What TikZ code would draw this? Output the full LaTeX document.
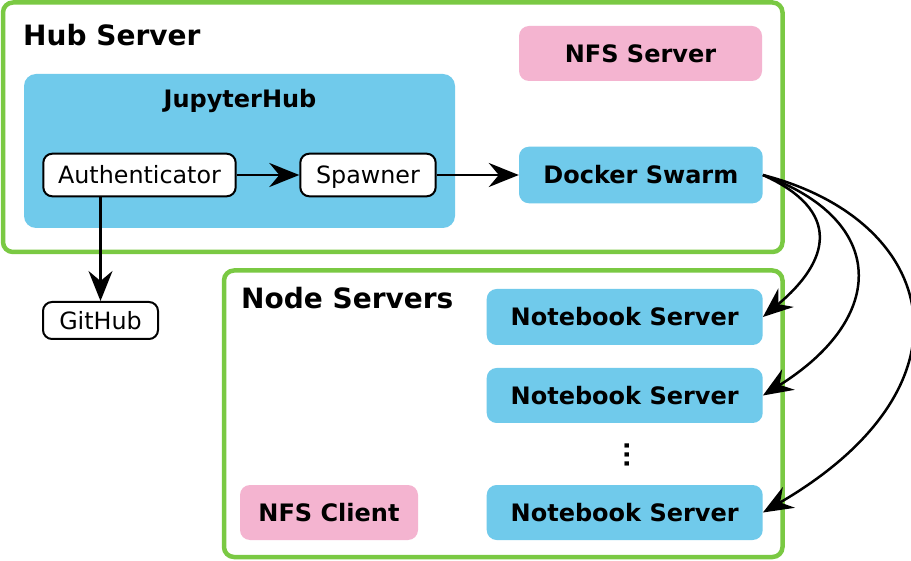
\documentclass[tikz,border=0pt]{standalone}
\usepackage{fontspec}
\setmainfont{DejaVu Sans}
\usetikzlibrary{arrows.meta}
\definecolor{hubgreen}{RGB}{122,201,67}
\definecolor{boxblue}{RGB}{112,202,235}
\definecolor{boxpink}{RGB}{244,180,208}
\begin{document}
\begin{tikzpicture}[x=1pt,y=-1pt,
  frame/.style={draw=hubgreen, line width=4.5pt, rounded corners=10pt, inner sep=0pt},
  titletext/.style={anchor=base west, inner sep=0pt, font=\fontsize{28}{33}\selectfont\bfseries},
  bluebox/.style={fill=boxblue, rounded corners=10pt, inner sep=0pt, font=\fontsize{24}{29}\selectfont\bfseries, text height=17.5pt, text depth=0pt},
  pinkbox/.style={bluebox, fill=boxpink},
  whitebox/.style={draw, line width=2pt, fill=white, rounded corners=9pt, inner sep=0pt, font=\fontsize{23.8}{28}\selectfont, text height=17.3pt, text depth=0pt},
  arr/.style={line width=2.5pt, -{Stealth[length=30pt,width=24pt,inset=10pt]}},
]
\useasboundingbox (0,0) rectangle (911,561);
\fill[white] (0,0) rectangle (911,561);
% frames
\node[frame, minimum width=779.5pt, minimum height=249.5pt] (hub) at (392.75,127.25) {};
\node[frame, minimum width=558.5pt, minimum height=286.5pt] (nodes) at (503.25,413.75) {};
\node[titletext] (hubtitle) at (23,46) {Hub Server};
\node[titletext] (nodetitle) at (241,309) {Node Servers};
% hub contents
\node[pinkbox, minimum width=243pt, minimum height=55pt] (nfss) at (640.5,53.5) {NFS Server};
\node[bluebox, rounded corners=12pt, minimum width=431pt, minimum height=154pt] (jhub) at (239.5,151) {};
\node[anchor=base, inner sep=0pt, font=\fontsize{24}{29}\selectfont\bfseries] (jhubtitle) at (240,108) {JupyterHub};
\node[whitebox, minimum width=192.4pt, minimum height=42.6pt] (auth) at (139.5,175) {Authenticator};
\node[whitebox, minimum width=135.4pt, minimum height=42.6pt] (spawn) at (368,175) {Spawner};
\node[bluebox, minimum width=243.7pt, minimum height=56.6pt] (docker) at (640.85,175) {Docker Swarm};
\node[whitebox, minimum width=115pt, minimum height=37pt] (github) at (100.5,320.5) {GitHub};
% node servers
\node[bluebox, minimum width=276pt, minimum height=56pt] (ns1) at (624.7,317) {Notebook Server};
\node[bluebox, minimum width=276pt, minimum height=55pt] (ns2) at (624.7,395.5) {Notebook Server};
\node[bluebox, minimum width=276pt, minimum height=55pt] (ns3) at (624.7,512.5) {Notebook Server};
\node[pinkbox, minimum width=178pt, minimum height=55pt] (nfsc) at (329,512.5) {NFS Client};
\node[rotate=90, inner sep=0pt, font=\fontsize{24}{29}\selectfont\bfseries] (dots) at (627,455) {...};
% connectors
\draw[arr] (auth.east) -- (spawn.west);
\draw[arr] (spawn.east) -- (docker.west);
\draw[arr] (auth.south -| github.north) -- (github.north);
\draw[arr] (docker.east) .. controls +(80,36) and +(67,-56) .. (ns1.east);
\draw[arr] (docker.east) .. controls +(125,45) and +(125,-78) .. (ns2.east);
\draw[arr] (docker.east) .. controls +(175,45) and +(220,-128) .. (ns3.east);
\end{tikzpicture}
\end{document}
